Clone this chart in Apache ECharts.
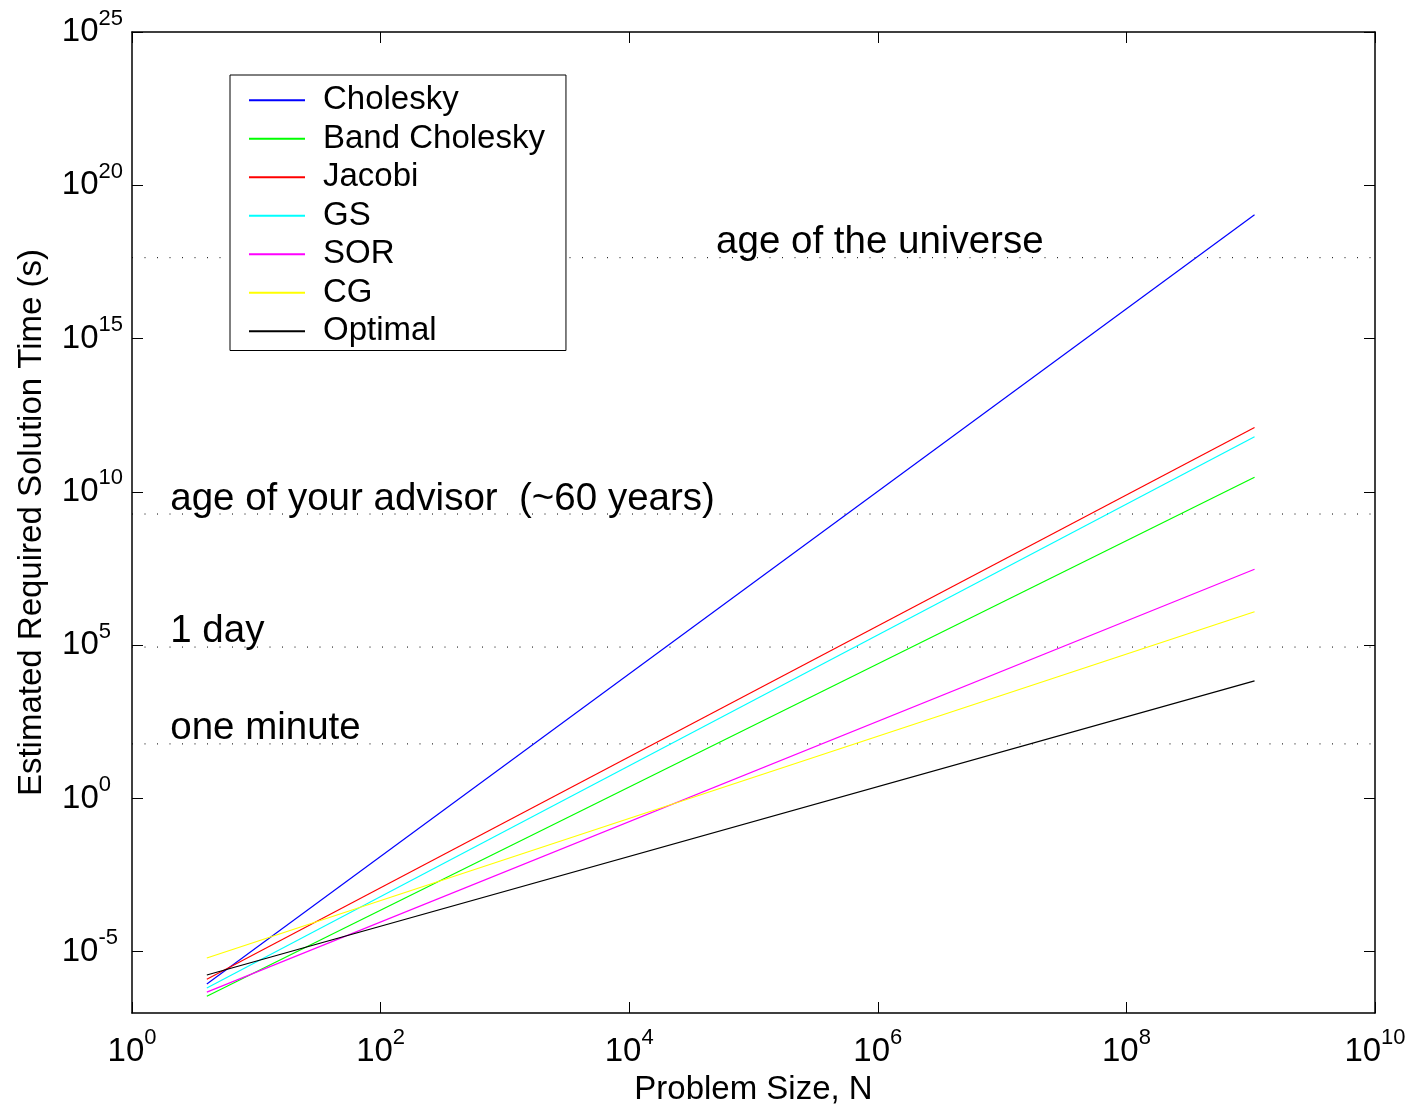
<!DOCTYPE html>
<html><head><meta charset="utf-8">
<script src="https://cdn.jsdelivr.net/npm/echarts@6/dist/echarts.min.js"></script>
<style>html,body{margin:0;padding:0;background:#fff}#c{width:1414px;height:1109px}</style>
</head><body><div id="c"></div>
<script>
// ---- data ----
const problemSize = [4, 1073741824];
const cholesky     = [8.9e-7, 1.1e19];
const bandCholesky = [3.5e-7, 3.0e10];
const jacobi       = [1.26e-6, 1.26e12];
const gs           = [6.5e-7, 6.3e11];
const sor          = [4.8e-7, 3.0e7];
const cg           = [6.2e-6, 1.23e6];
const optimal      = [1.74e-6, 6.8e3];
const seriesNames  = ['Cholesky', 'Band Cholesky', 'Jacobi', 'GS', 'SOR', 'CG', 'Optimal'];
const seriesValues = [cholesky, bandCholesky, jacobi, gs, sor, cg, optimal];
const seriesColors = ['#0000ff', '#00ff00', '#ff0000', '#00ffff', '#ff00ff', '#ffff00', '#000000'];
const refTimes  = [4.35e17, 1.89e9, 86400, 60];
const refLabels = ['age of the universe', 'age of your advisor  (~60 years)', '1 day', 'one minute'];
const refLabelX = [5.0e4, 2.03, 2.03, 2.03];
const refLabelY = [1.33e18, 5.5e9, 2.9e5, 1.9e2];
const xTickValues = [1, 1e2, 1e4, 1e6, 1e8, 1e10];
const yTickValues = [1e-5, 1e0, 1e5, 1e10, 1e15, 1e20, 1e25];
const xRange = [1, 1e10];
const yRange = [1e-7, 1e25];

const FONT = '"Liberation Sans", Arial, Helvetica, sans-serif';
const chart = echarts.init(document.getElementById('c'), null, {renderer: 'canvas'});

function powLabelX(v) {
  const e = Math.round(Math.log10(v));
  return '{b|10}{s|' + e + '}';
}
function powLabelY(v) {
  const e = String(Math.round(Math.log10(v)));
  // keep the "10" at a fixed place: pad short exponents on the right
  const style = e.length >= 2 ? (e[0] === '-' ? 'sm' : 's') : 's1';
  return '{b|10}{' + style + '|' + e + '}';
}
const supBase = {fontSize: 22, fontFamily: FONT, color: '#000'};
const richX = {
  b: {fontSize: 33, fontFamily: FONT, color: '#000'},
  s: Object.assign({padding: [0, 0, 27, 0]}, supBase)
};
const richY = {
  b: {fontSize: 33, fontFamily: FONT, color: '#000'},
  s: Object.assign({padding: [0, 0, 27, 0]}, supBase),
  s1: Object.assign({padding: [0, 12, 27, 0]}, supBase),
  sm: Object.assign({padding: [0, 5, 27, 0]}, supBase)
};
const lineAx = {show: true, onZero: false, lineStyle: {color: '#000', width: 1.5}};

const series = [];
refTimes.forEach((t, i) => {
  series.push({
    type: 'line', name: 'ref' + i, silent: true, symbol: 'none', z: 1,
    data: [[xRange[0], t], [xRange[1], t]],
    lineStyle: {color: '#000', width: 1, type: [1, 11.5]}
  });
});
seriesNames.forEach((name, i) => {
  series.push({
    type: 'line', name: name, symbol: 'none', z: 3,
    data: problemSize.map((n, k) => [n, seriesValues[i][k]]),
    lineStyle: {color: seriesColors[i], width: 1.2},
    itemStyle: {color: seriesColors[i]}
  });
});
series.push({
  type: 'scatter', name: 'annotations', silent: true, z: 5,
  symbolSize: 0, itemStyle: {color: '#000'},
  data: refLabels.map((t, i) => ({name: t, value: [refLabelX[i], refLabelY[i]]})),
  label: {show: true, position: 'right', distance: 0, formatter: '{b}',
          fontSize: 38.5, fontFamily: FONT, color: '#000', opacity: 1, textBorderWidth: 0}
});

chart.setOption({
  animation: false,
  backgroundColor: '#fff',
  grid: {left: 132, right: 39, top: 32, bottom: 96, containLabel: false, outerBoundsMode: 'none'},
  legend: {
    data: seriesNames, orient: 'vertical', left: 230, top: 75,
    padding: [6, 21, 0, 18], itemWidth: 56, itemHeight: 14, itemGap: 0,
    itemStyle: {opacity: 0},
    backgroundColor: '#fff', borderColor: '#000', borderWidth: 1, borderRadius: 0,
    textStyle: {fontSize: 33, fontFamily: FONT, color: '#000', lineHeight: 38.5, padding: [0, 0, 0, 13]}
  },
  xAxis: [{
    type: 'log', logBase: 10, min: xRange[0], max: xRange[1], position: 'bottom',
    axisLine: lineAx,
    axisTick: {show: true, inside: true, length: 11, customValues: xTickValues, lineStyle: {color: '#000', width: 1}},
    axisLabel: {show: true, customValues: xTickValues, formatter: powLabelX, rich: richX, margin: 14},
    splitLine: {show: false}, minorTick: {show: false},
    name: 'Problem Size, N', nameLocation: 'middle', nameGap: 60,
    nameTextStyle: {fontSize: 33, fontFamily: FONT, color: '#000'}
  }, {
    type: 'log', logBase: 10, min: xRange[0], max: xRange[1], position: 'top',
    axisLine: lineAx,
    axisTick: {show: true, inside: true, length: 11, customValues: xTickValues, lineStyle: {color: '#000', width: 1}},
    axisLabel: {show: false}, splitLine: {show: false}
  }],
  yAxis: [{
    type: 'log', logBase: 10, min: yRange[0], max: yRange[1], position: 'left',
    axisLine: lineAx,
    axisTick: {show: true, inside: true, length: 11, customValues: yTickValues, lineStyle: {color: '#000', width: 1}},
    axisLabel: {show: true, customValues: yTickValues, formatter: powLabelY, rich: richY, margin: 9},
    splitLine: {show: false}, minorTick: {show: false},
    name: 'Estimated Required Solution Time (s)', nameLocation: 'middle', nameGap: 84,
    nameTextStyle: {fontSize: 33, fontFamily: FONT, color: '#000'}
  }, {
    type: 'log', logBase: 10, min: yRange[0], max: yRange[1], position: 'right',
    axisLine: lineAx,
    axisTick: {show: true, inside: true, length: 11, customValues: yTickValues, lineStyle: {color: '#000', width: 1}},
    axisLabel: {show: false}, splitLine: {show: false}
  }],
  series: series
});
</script>
</body></html>
